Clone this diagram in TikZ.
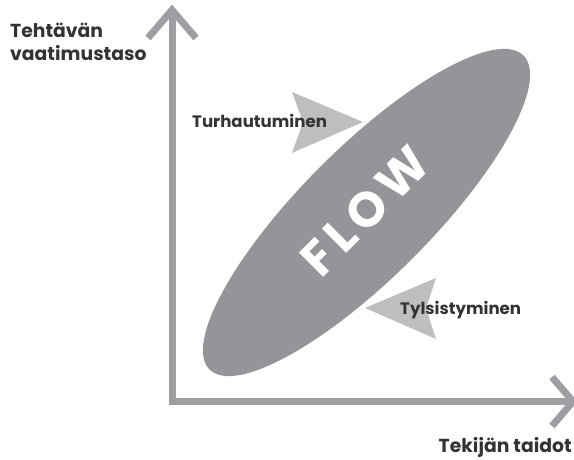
\documentclass[tikz,border=0pt]{standalone}
\usepackage{fontspec}
\setmainfont{Poppins}
\definecolor{axisgray}{HTML}{9D9FA2}
\definecolor{ellgray}{HTML}{939598}
\definecolor{arrgray}{HTML}{BCBEC0}
\definecolor{txtdark}{HTML}{333333}
\tikzset{
  axisline/.style={draw=axisgray, line width=7pt, line join=miter},
  pointer/.style={fill=arrgray, draw=none},
  lbl/.style={text=txtdark, font=\bfseries\fontsize{18.8}{22}\selectfont, inner sep=0pt},
  smalllbl/.style={text=txtdark, font=\bfseries\fontsize{16.6}{19}\selectfont, inner sep=0pt},
}
\begin{document}
\begin{tikzpicture}[x=1pt, y=-1pt]
\useasboundingbox (0,0) rectangle (574,459);
% ellipse
\fill[ellgray] (366.5,212.5) ellipse[x radius=222, y radius=65, rotate=45];
% pointer arrows
\fill[pointer] (292,92) -- (363,122) -- (292,153) -- (303,122) -- cycle;
\fill[pointer] (436,278) -- (365,308) -- (436,339) -- (426,308) -- cycle;
% axes
\coordinate (ytip) at (172,10);
\coordinate (origin) at (172,401.5);
\coordinate (xtip) at (573,401.5);
\draw[axisline] (ytip) -- (origin) -- (xtip);
\draw[axisline] (148,38) -- (ytip) -- (196,38);
\draw[axisline] (552,377) -- (xtip) -- (552,426);
% labels
\node[lbl, anchor=base west] (yl1) at (10,37) {Tehtävän};
\node[lbl, anchor=base west] (yl2) at (10,60) {vaatimustaso};
\node[lbl, anchor=base east] (xl) at (572,452) {Tekijän taidot};
\node[smalllbl, anchor=base west] (turh) at (192,127) {Turhautuminen};
\node[smalllbl, anchor=base west] (tyls) at (400,314) {Tylsistyminen};
\node[text=white, font=\bfseries\fontsize{49}{50}\selectfont\addfontfeatures{LetterSpace=12}, rotate=45, inner sep=0pt] (flow) at (365,211) {FLOW};
\end{tikzpicture}
\end{document}
